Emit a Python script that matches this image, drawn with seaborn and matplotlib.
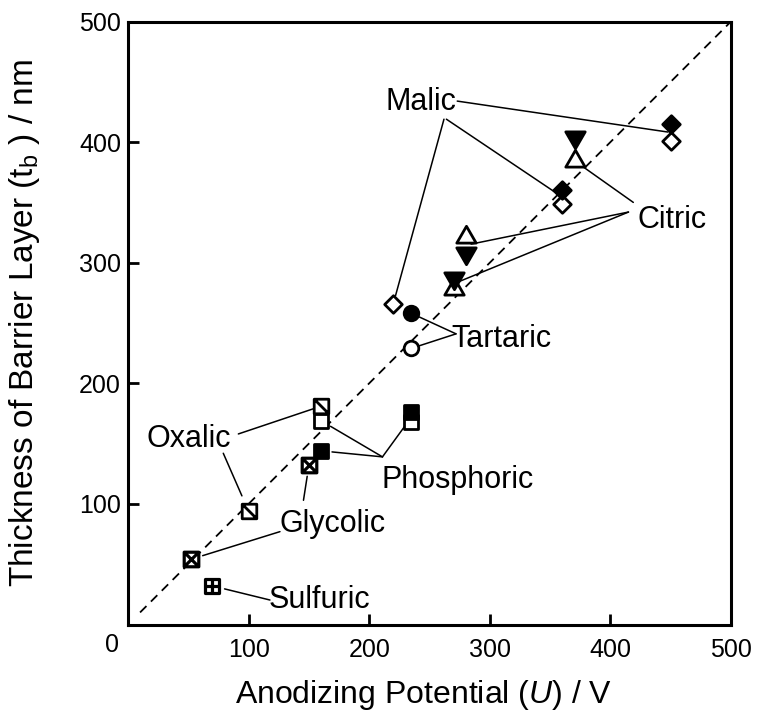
import matplotlib
matplotlib.use("Agg")
import matplotlib.pyplot as plt
from matplotlib.path import Path
import numpy as np
import pandas as pd
import seaborn as sns

# ---- data (anodizing potential in V, barrier-layer thickness in nm) ----
malic_open_u = [220, 360, 450]
malic_open_t = [266, 349, 401]
malic_fill_u = [360, 450]
malic_fill_t = [360, 415]

citric_open_u = [270, 280, 371]
citric_open_t = [278, 321, 384]
citric_fill_u = [270, 280, 371]
citric_fill_t = [287, 308, 404]

tartaric_fill_u = [235]
tartaric_fill_t = [258]
tartaric_open_u = [235]
tartaric_open_t = [229]

phosphoric_open_u = [160, 235]
phosphoric_open_t = [169, 168]
phosphoric_fill_u = [160, 235]
phosphoric_fill_t = [144, 176]

oxalic_u = [100, 160]
oxalic_t = [94, 181]

glycolic_u = [52, 150]
glycolic_t = [54, 132]

sulfuric_u = [70]
sulfuric_t = [32]

x_ticks = [100, 200, 300, 400, 500]
y_ticks = [100, 200, 300, 400, 500]

# ---- style ----
sns.set_style("ticks")
plt.rcParams["font.family"] = ["Liberation Sans", "DejaVu Sans"]
plt.rcParams["mathtext.fontset"] = "custom"
plt.rcParams["mathtext.rm"] = "Liberation Sans"
plt.rcParams["mathtext.it"] = "Liberation Sans:italic"
for key in ["text.color", "axes.labelcolor", "xtick.color", "ytick.color",
            "xtick.labelcolor", "ytick.labelcolor", "axes.edgecolor"]:
    plt.rcParams[key] = "black"

fig = plt.figure(figsize=(7.58, 7.13), dpi=100)
ax = fig.add_axes([128 / 758, 1 - 624.5 / 713, 603 / 758, 603 / 713])


def square_with(extra):
    """Square outline plus extra inner strokes, as one marker path."""
    verts = [(-1, -1), (1, -1), (1, 1), (-1, 1), (-1, -1)]
    codes = [Path.MOVETO, Path.LINETO, Path.LINETO, Path.LINETO, Path.CLOSEPOLY]
    for a, b in extra:
        verts += [a, b]
        codes += [Path.MOVETO, Path.LINETO]
    return Path(verts, codes)


diag_square = square_with([((-1, 1), (1, -1))])
cross_square = square_with([((-1, 1), (1, -1)), ((-1, -1), (1, 1))])
plus_square = square_with([((0, -1), (0, 1)), ((-1, 0), (1, 0))])
tri_up = Path([(0, 0.577), (-0.5, -0.289), (0.5, -0.289), (0, 0.577)],
              [Path.MOVETO, Path.LINETO, Path.LINETO, Path.CLOSEPOLY])
tri_down = Path([(0, -0.577), (-0.5, 0.289), (0.5, 0.289), (0, -0.577)],
                [Path.MOVETO, Path.LINETO, Path.LINETO, Path.CLOSEPOLY])

# y = x reference line
ref = pd.DataFrame({"u": [10, 500], "t": [10, 500]})
sns.lineplot(data=ref, x="u", y="t", ax=ax, color="black", lw=1.3, zorder=1)
ax.lines[-1].set_dashes((5, 3.5))


def scatter(u, t, marker, s, filled, z=3, lw=2.0):
    df = pd.DataFrame({"u": u, "t": t})
    sns.scatterplot(data=df, x="u", y="t", ax=ax, marker=marker, s=s,
                    facecolor="black" if filled else "white",
                    edgecolor="black", linewidth=lw, zorder=z, legend=False)


scatter(malic_open_u, malic_open_t, "D", 80, False)
scatter(malic_fill_u, malic_fill_t, "D", 80, True, z=4)
scatter(citric_open_u, citric_open_t, tri_up, 260, False)
scatter(citric_fill_u, citric_fill_t, tri_down, 260, True, z=4)
scatter(tartaric_open_u, tartaric_open_t, "o", 110, False)
scatter(tartaric_fill_u, tartaric_fill_t, "o", 110, True, z=4)
scatter(phosphoric_open_u, phosphoric_open_t, "s", 110, False)
scatter(oxalic_u, oxalic_t, diag_square, 110, False, z=4)
scatter(glycolic_u, glycolic_t, cross_square, 110, False, lw=2.3)
scatter(phosphoric_fill_u, phosphoric_fill_t, "s", 110, True, z=5)
scatter(sulfuric_u, sulfuric_t, plus_square, 110, False, lw=2.3)

# ---- labels with leader lines ----
label_size = 22


def leader(start, target, shrink):
    ax.annotate("", xy=target, xytext=start,
                arrowprops=dict(arrowstyle="-", color="black", lw=1.1,
                                shrinkA=0, shrinkB=shrink), zorder=2)


ax.text(243, 433, "Malic", fontsize=label_size, ha="center", va="center")
leader((273, 434), (malic_open_u[2], (malic_open_t[2] + malic_fill_t[1]) / 2), 2)
leader((264, 419), (malic_open_u[1], (malic_open_t[1] + malic_fill_t[0]) / 2), 7)
leader((262, 419), (malic_open_u[0], malic_open_t[0]), 6)

ax.text(451, 335, "Citric", fontsize=label_size, ha="center", va="center")
leader((419, 350), (citric_open_u[2], citric_open_t[2]), 5)
leader((415, 342), (citric_open_u[1], (citric_open_t[1] + citric_fill_t[1]) / 2), 4)
leader((415, 342), (citric_open_u[0], (citric_open_t[0] + citric_fill_t[0]) / 2), 4)

ax.text(310, 237, "Tartaric", fontsize=label_size, ha="center", va="center")
leader((272, 241), (tartaric_fill_u[0], tartaric_fill_t[0]), 6)
leader((272, 241), (tartaric_open_u[0], tartaric_open_t[0]), 6)

ax.text(273, 120, "Phosphoric", fontsize=label_size, ha="center", va="center")
leader((211, 139), (phosphoric_open_u[0], phosphoric_open_t[0]), 8)
leader((211, 139), (phosphoric_fill_u[0], phosphoric_fill_t[0]), 8)
leader((211, 139), (phosphoric_open_u[1], (phosphoric_open_t[1] + phosphoric_fill_t[1]) / 2), 8)

ax.text(50, 154, "Oxalic", fontsize=label_size, ha="center", va="center")
leader((91.5, 158), (oxalic_u[1], oxalic_t[1]), 6)
leader((79, 142), (oxalic_u[0], oxalic_t[0]), 12)

ax.text(170, 83, "Glycolic", fontsize=label_size, ha="center", va="center")
leader((126, 77), (glycolic_u[0], glycolic_t[0]), 9)
leader((145.5, 103), (glycolic_u[1], glycolic_t[1]), 8)

ax.text(159, 20, "Sulfuric", fontsize=label_size, ha="center", va="center")
leader((117.7, 20.3), (sulfuric_u[0], sulfuric_t[0]), 9)

# ---- axes ----
ax.set_xlim(0, 500)
ax.set_ylim(0, 500)
ax.set_xticks(x_ticks)
ax.set_yticks(y_ticks)
ax.tick_params(direction="in", length=8, width=2, labelsize=18,
               color="black", labelcolor="black")
ax.tick_params(axis="x", pad=10)
ax.tick_params(axis="y", pad=5)
for side in ["left", "right", "top", "bottom"]:
    ax.spines[side].set_visible(True)
    ax.spines[side].set_linewidth(2.2)
    ax.spines[side].set_color("black")
ax.text(-13, -7, "0", fontsize=18, ha="center", va="top", clip_on=False)

ax.set_xlabel(r"Anodizing Potential ($\mathit{U}$) / V", fontsize=23)
ax.set_ylabel(r"Thickness of Barrier Layer (t$_{\mathrm{b}}$ ) / nm", fontsize=24)
ax.xaxis.set_label_coords(0.49, -0.088)
ax.yaxis.set_label_coords(-0.143, 0.5)

fig.savefig("out.png", dpi=100)
